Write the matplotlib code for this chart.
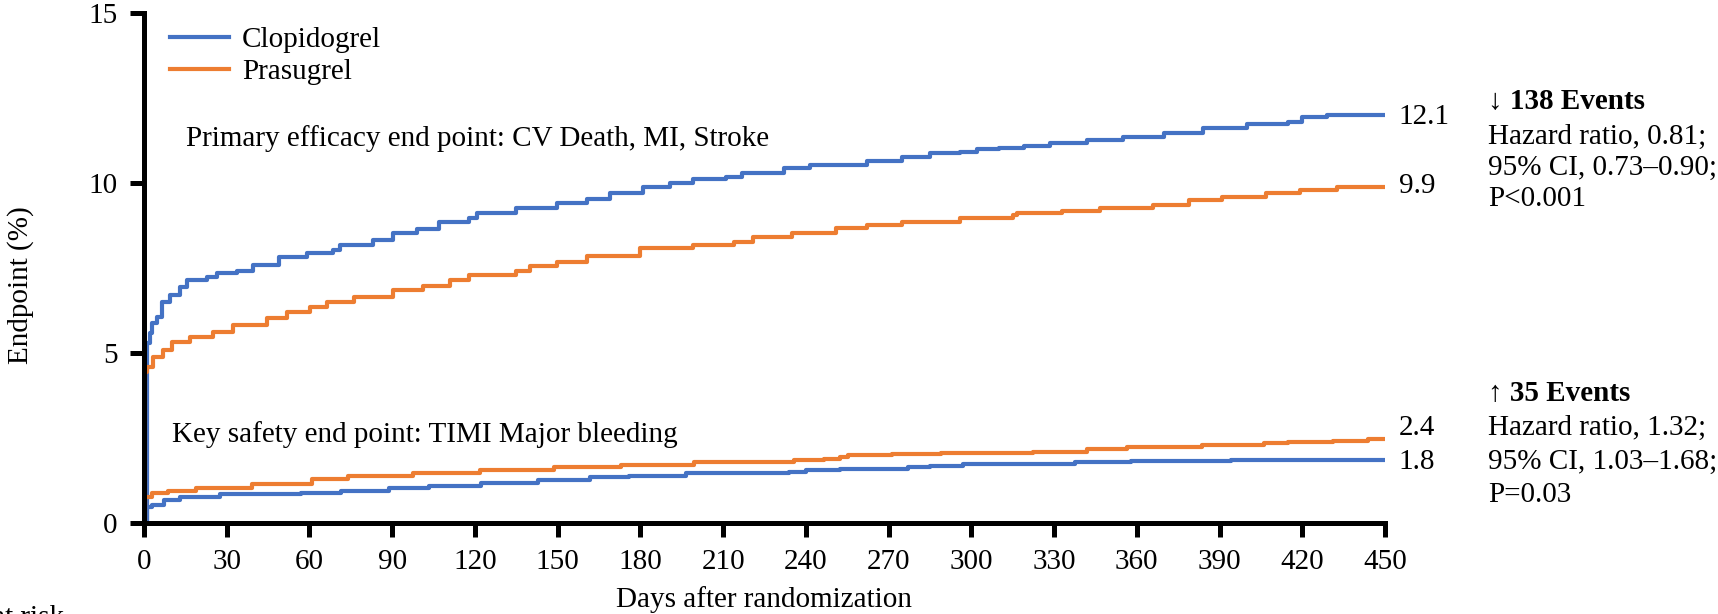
import matplotlib
matplotlib.use("Agg")
import matplotlib.pyplot as plt
import numpy as np

# Kaplan-Meier style cumulative event curves
clop_eff_days = [0, 1, 2, 3, 4.6, 6.4, 9.4, 13, 15.5, 22.7, 26.4, 33.6, 39.6, 49, 59, 68.6, 71, 83,
                 90.4, 99, 107, 118, 120.6, 135, 149.6, 160.5, 169, 181, 190.7, 199, 211, 217, 232,
                 241.5, 262, 275, 285, 296, 302, 310, 319, 328.5, 342, 355, 370, 384, 400, 415, 420,
                 429, 450]
clop_eff_pct = [0, 5.3, 5.6, 5.87, 6.07, 6.51, 6.70, 6.95, 7.15, 7.24, 7.36, 7.42, 7.59, 7.81, 7.95,
                8.03, 8.18, 8.32, 8.52, 8.64, 8.86, 8.96, 9.11, 9.26, 9.40, 9.52, 9.72, 9.89, 10.01,
                10.11, 10.19, 10.29, 10.45, 10.53, 10.66, 10.78, 10.88, 10.92, 11.00, 11.02, 11.09,
                11.17, 11.27, 11.37, 11.47, 11.61, 11.73, 11.81, 11.96, 12.01, 12.01]

pras_eff_days = [0, 0.5, 1, 3.4, 7, 10, 16.7, 25, 32.4, 44.5, 51.7, 60.2, 66.2, 76, 90.4, 101, 111,
                 118, 135, 140, 149.6, 160.5, 180, 199, 214, 221, 235, 251, 262, 275, 296, 315,
                 316.4, 333, 346.6, 366, 379, 391, 407, 419, 432.5, 450]
pras_eff_pct = [0, 4.45, 4.59, 4.89, 5.09, 5.33, 5.48, 5.62, 5.82, 6.02, 6.21, 6.36, 6.51, 6.65, 6.85,
                6.97, 7.15, 7.29, 7.42, 7.56, 7.69, 7.85, 8.08, 8.18, 8.27, 8.40, 8.52, 8.67, 8.77,
                8.86, 8.96, 9.06, 9.13, 9.19, 9.28, 9.36, 9.50, 9.60, 9.72, 9.80, 9.88, 9.88]

clop_bleed_days = [0, 1, 2.9, 7.3, 13, 27.7, 56.8, 71.4, 88.8, 103.4, 122.3, 142.7, 161.6, 176,
                   196.6, 234, 240, 252.5, 277, 285, 297, 337.6, 358, 394, 450]
clop_bleed_pct = [0, 0.45, 0.52, 0.67, 0.75, 0.85, 0.88, 0.94, 1.01, 1.09, 1.18, 1.26, 1.34, 1.38,
                  1.45, 1.50, 1.55, 1.58, 1.63, 1.67, 1.73, 1.79, 1.82, 1.85, 1.85]

pras_bleed_days = [0, 0.5, 2.9, 8.7, 19, 39, 61, 74, 97.6, 122, 148.6, 173, 199.5, 227, 235.7, 246.6,
                   252.5, 255.4, 271.4, 289, 322.4, 342, 356.6, 383.5, 406, 415, 431, 444, 450]
pras_bleed_pct = [0, 0.77, 0.87, 0.94, 1.01, 1.14, 1.28, 1.38, 1.47, 1.55, 1.65, 1.70, 1.78, 1.80,
                  1.85, 1.88, 1.94, 1.99, 2.02, 2.06, 2.09, 2.16, 2.22, 2.29, 2.34, 2.38, 2.41, 2.45,
                  2.45]

end_labels = [("12.1", 11.95), ("9.9", 9.9), ("2.4", 2.78), ("1.8", 1.78)]
x_ticks = np.arange(0, 451, 30)
y_ticks = [0, 5, 10, 15]

BLUE = "#4472C4"
ORANGE = "#ED7D31"
FS = 21

plt.rcParams['font.family'] = ['Liberation Serif', 'DejaVu Serif']
plt.rcParams['font.size'] = FS

fig = plt.figure(figsize=(17.18, 6.14), dpi=100)
ax = fig.add_axes([144 / 1718, 1 - 522.7 / 614, (1385 - 144) / 1718, (522.7 - 13.3) / 614])

lw = 3.0
ax.step(clop_eff_days, clop_eff_pct, where='post', color=BLUE, lw=lw, label='Clopidogrel')
ax.step(pras_eff_days, pras_eff_pct, where='post', color=ORANGE, lw=lw, label='Prasugrel')
ax.step(clop_bleed_days, clop_bleed_pct, where='post', color=BLUE, lw=lw)
ax.step(pras_bleed_days, pras_bleed_pct, where='post', color=ORANGE, lw=lw)

ax.set_xlim(0, 450)
ax.set_ylim(0, 15)
ax.set_xticks(x_ticks)
ax.set_yticks(y_ticks)
for s in ['top', 'right']:
    ax.spines[s].set_visible(False)
for s in ['left', 'bottom']:
    ax.spines[s].set_linewidth(3.6)
ax.tick_params(width=3.6, length=10, pad=9, labelsize=FS, direction='out')

ax.set_xlabel('Days after randomization', fontsize=FS, labelpad=8)
ax.set_ylabel('Endpoint (%)', fontsize=FS)
ax.yaxis.set_label_coords(-0.089, 0.467)

ax.legend(loc='upper left', bbox_to_anchor=(0.0, 1.025), frameon=False, fontsize=FS,
          handlelength=2.0, handletextpad=0.45, labelspacing=0.2)

ax.text(15.2, 11.3, 'Primary efficacy end point: CV Death, MI, Stroke', fontsize=FS, va='center')
ax.text(10.2, 2.6, 'Key safety end point: TIMI Major bleeding', fontsize=FS, va='center')

for txt, yv in end_labels:
    ax.text(455, yv, txt, fontsize=FS, va='center', clip_on=False)

# statistics blocks on the right
fig.text(1488 / 1718, 1 - 102 / 614, '\u2193 138 Events', fontsize=FS, fontweight='bold',
         va='center', family=['Liberation Serif', 'DejaVu Sans'])
for i, line in enumerate(['Hazard ratio, 0.81;', '95% CI, 0.73\u20130.90;', 'P<0.001']):
    fig.text(1488 / 1718, 1 - (137 + 31 * i) / 614, line, fontsize=FS, va='center')
fig.text(1488 / 1718, 1 - 393 / 614, '\u2191 35 Events', fontsize=FS, fontweight='bold',
         va='center', family=['Liberation Serif', 'DejaVu Sans'])
for i, line in enumerate(['Hazard ratio, 1.32;', '95% CI, 1.03\u20131.68;', 'P=0.03']):
    fig.text(1488 / 1718, 1 - (428 + 33.5 * i) / 614, line, fontsize=FS, va='center')

fig.text(64 / 1718, 1 - 605 / 614, 'No. at risk', fontsize=FS, ha='right', va='top')

fig.savefig('out.png', dpi=100)
